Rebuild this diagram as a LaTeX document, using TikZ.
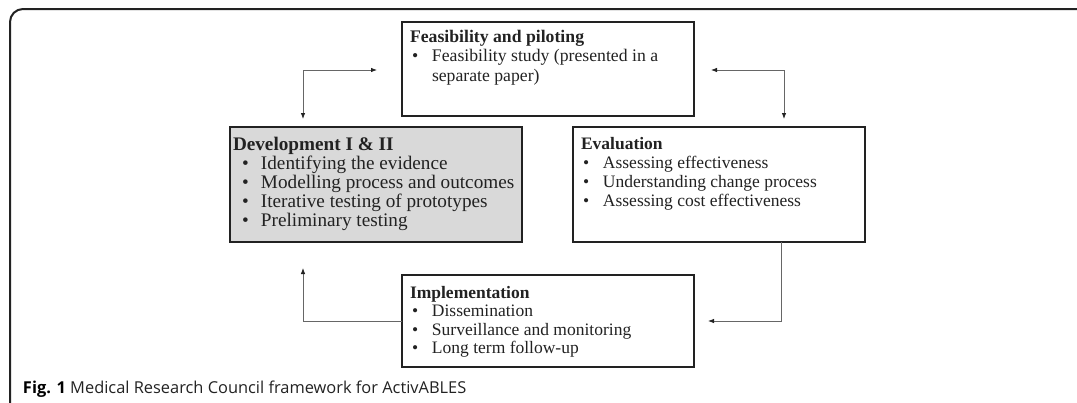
\documentclass[tikz,border=0pt]{standalone}
\usepackage{fontspec}
\setmainfont{Liberation Serif}
\newfontfamily\capfont{Open Sans}
\usetikzlibrary{arrows.meta}
\definecolor{ink}{HTML}{222222}
\definecolor{devgray}{HTML}{D9D9D9}
\definecolor{conngray}{HTML}{666666}
\newcommand{\bul}[1]{\hspace*{2pt}\makebox[20pt][l]{\textbullet}#1}
\newcommand{\cont}[1]{\hspace*{22pt}#1}
\newcommand{\dbul}[1]{\hspace*{9pt}\makebox[19pt][l]{\textbullet}#1}
\begin{document}
\begin{tikzpicture}[x=1pt,y=-1pt,
  box/.style={draw=ink,line width=1.1pt,inner sep=0pt,outer sep=0pt,anchor=north west},
  txt/.style={inner sep=0pt,outer sep=0pt,anchor=base west,text=ink},
  conn/.style={draw=conngray,line width=0.8pt,arrows={-Latex[length=6pt,width=4.5pt,color=ink]}},
  conn2/.style={draw=conngray,line width=0.8pt,arrows={Latex[length=6pt,width=4.5pt,color=ink]-Latex[length=6pt,width=4.5pt,color=ink]}},
  frame/.style={draw=ink,line width=2pt,rounded corners=13pt}]
\useasboundingbox (0,0) rectangle (1077,402);
% outer frame (open at right and bottom)
\draw[frame] (10,404) -- (10,9) -- (1079,9);
% boxes
\node[box,minimum width=292pt,minimum height=94pt] (feas) at (402,22) {};
\node[box,fill=devgray,minimum width=292pt,minimum height=115pt] (dev) at (230,127) {};
\node[box,minimum width=292pt,minimum height=115pt] (eval) at (573,127) {};
\node[box,minimum width=292pt,minimum height=92pt] (impl) at (402,275) {};
% texts
\node[txt] (feast) at ([shift={(8pt,-20pt)}]feas.north west)
  {\parbox[t]{285pt}{\fontsize{17.7}{19.5}\selectfont
   \textbf{Feasibility and piloting}\\
   \bul{Feasibility study (presented in a}\\
   \cont{separate paper)}}};
\node[txt] (devt) at ([shift={(3pt,-23pt)}]dev.north west)
  {\parbox[t]{288pt}{\fontsize{19.2}{19}\selectfont
   \textbf{Development I \& II}\\
   \dbul{Identifying the evidence}\\
   \dbul{Modelling process and outcomes}\\
   \dbul{Iterative testing of prototypes}\\
   \dbul{Preliminary testing}}};
\node[txt] (evalt) at ([shift={(8pt,-22pt)}]eval.north west)
  {\parbox[t]{285pt}{\fontsize{17.5}{19}\selectfont
   \textbf{Evaluation}\\
   \bul{Assessing effectiveness}\\
   \bul{Understanding change process}\\
   \bul{Assessing cost effectiveness}}};
\node[txt] (implt) at ([shift={(8pt,-23pt)}]impl.north west)
  {\parbox[t]{285pt}{\fontsize{17.5}{18.5}\selectfont
   \textbf{Implementation}\\
   \bul{Dissemination}\\
   \bul{Surveillance and monitoring}\\
   \bul{Long term follow-up}}};
% connector ends
\coordinate (a1s) at (303,119);
\coordinate (a1e) at (377,70);
\coordinate (a2s) at (711,70);
\coordinate (a2e) at (784,119);
\coordinate (a3e) at (708,321);
\coordinate (a4e) at (303,268);
% connectors
\draw[conn2] (a1s) |- (a1e);
\draw[conn2] (a2s) -| (a2e);
\draw[conn] ([xshift=62pt]eval.south) |- (a3e);
\draw[conn] (impl.west) -| (a4e);
% caption
\node[txt,text=black] (cap) at (23,393)
  {\capfont\fontsize{16.4}{16.4}\selectfont\textbf{Fig. 1} \textcolor{ink}{Medical Research Council framework for ActivABLES}};
\end{tikzpicture}
\end{document}
